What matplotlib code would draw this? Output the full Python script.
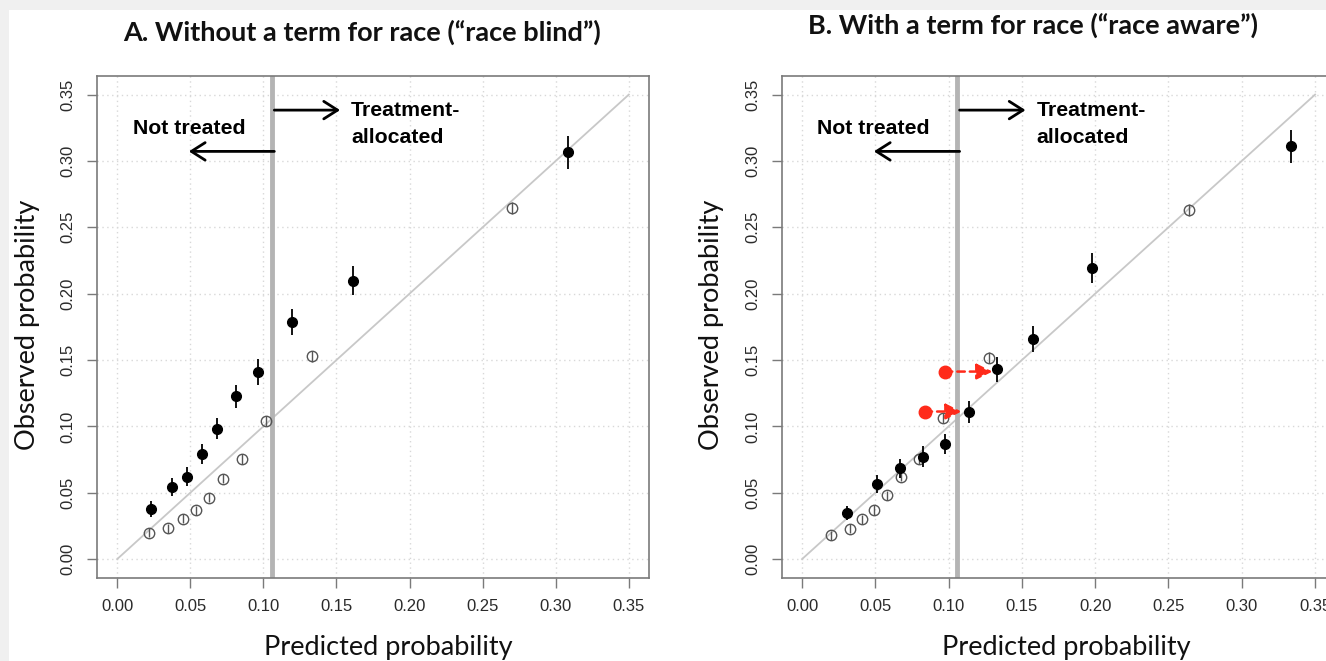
import matplotlib.pyplot as plt
from matplotlib.patches import Rectangle

# ---- data ----
# Panel A: without a term for race
a_black_pred = [0.0232, 0.0378, 0.0478, 0.0581, 0.0686, 0.0810, 0.0962, 0.1193, 0.1613, 0.3085]
a_black_obs = [0.0376, 0.0544, 0.0622, 0.0791, 0.0983, 0.1226, 0.1410, 0.1784, 0.2097, 0.3064]
a_black_err = [0.0061, 0.0066, 0.0069, 0.0078, 0.0078, 0.0088, 0.0095, 0.0099, 0.0110, 0.0126]
a_white_pred = [0.0217, 0.0351, 0.0449, 0.0537, 0.0627, 0.0727, 0.0852, 0.1018, 0.1333, 0.2699]
a_white_obs = [0.0200, 0.0233, 0.0303, 0.0368, 0.0464, 0.0607, 0.0754, 0.1042, 0.1527, 0.2647]
a_white_err = [0.0032, 0.0033, 0.0034, 0.0035, 0.0035, 0.0036, 0.0037, 0.0038, 0.0040, 0.0045]

# Panel B: with a term for race
b_black_pred = [0.0305, 0.0509, 0.0669, 0.0822, 0.0972, 0.1137, 0.1331, 0.1578, 0.1980, 0.3338]
b_black_obs = [0.0345, 0.0565, 0.0684, 0.0773, 0.0869, 0.1110, 0.1429, 0.1659, 0.2193, 0.3111]
b_black_err = [0.0054, 0.0069, 0.0070, 0.0076, 0.0076, 0.0082, 0.0091, 0.0101, 0.0110, 0.0124]
b_white_pred = [0.0201, 0.0325, 0.0410, 0.0494, 0.0579, 0.0676, 0.0797, 0.0965, 0.1277, 0.2640]
b_white_obs = [0.0179, 0.0228, 0.0301, 0.0371, 0.0480, 0.0622, 0.0757, 0.1060, 0.1519, 0.2631]
b_white_err = [0.0032, 0.0033, 0.0034, 0.0035, 0.0035, 0.0036, 0.0037, 0.0038, 0.0040, 0.0045]

# red points (race blind prediction) moved right in panel B
red_from = [0.0974, 0.0836]
red_to = [0.1299, 0.1088]
red_obs = [0.1413, 0.1112]

threshold = 0.106
ticks = [0.00, 0.05, 0.10, 0.15, 0.20, 0.25, 0.30, 0.35]
tick_labels = ['0.00', '0.05', '0.10', '0.15', '0.20', '0.25', '0.30', '0.35']

W, H = 1326, 661
fig = plt.figure(figsize=(W / 100, H / 100), dpi=100, facecolor='#f0f0f0')
fig.patches.append(Rectangle((9 / W, 0), 1, 1 - 10 / H, transform=fig.transFigure,
                             facecolor='white', edgecolor='none', zorder=-10))


def panel(ax, bx, by, be, wx, wy, we):
    ax.set_xlim(-0.014, 0.364)
    ax.set_ylim(-0.014, 0.364)
    ax.set_xticks(ticks)
    ax.set_xticklabels(tick_labels)
    ax.set_yticks(ticks)
    ax.set_yticklabels(tick_labels, rotation=90, va='center')
    for s in ax.spines.values():
        s.set_color('#7a7a7a')
        s.set_linewidth(1.2)
    ax.tick_params(length=7.2, width=1, color='#7a7a7a', labelsize=12,
                   labelcolor='#2a2a2a', labelfontfamily='Liberation Sans')
    ax.tick_params(axis='x', pad=8)
    ax.tick_params(axis='y', pad=8)
    ax.grid(True, color='#d8d8d8', linestyle=(0, (1, 2.5)), lw=1)
    ax.set_axisbelow(True)

    ax.plot([0, 0.35], [0, 0.35], color='#c8c8c8', lw=1.3, zorder=1)
    ax.axvline(threshold, color='#b4b4b4', lw=3.5, zorder=2)

    ax.errorbar(wx, wy, yerr=we, fmt='o', ms=7.5, mfc='none', mec='#555555',
                mew=1, ecolor='#555555', elinewidth=1, capsize=0, zorder=3)
    ax.errorbar(bx, by, yerr=be, fmt='o', ms=7, mfc='black', mec='black',
                ecolor='black', elinewidth=1.3, capsize=0, zorder=4)

    # annotations
    tf = dict(family='Liberation Sans', weight='bold', fontsize=15.3, color='black')
    ax.text(0.0105, 0.3241, 'Not treated', ha='left', va='center', **tf)
    ax.text(0.1600, 0.3380, 'Treatment-', ha='left', va='center', **tf)
    ax.text(0.1600, 0.3176, 'allocated', ha='left', va='center', **tf)
    ap = dict(arrowstyle='->,head_length=0.55,head_width=0.35', color='black', lw=2,
              shrinkA=0, shrinkB=0, mutation_scale=18)
    ax.annotate('', xy=(0.049, 0.3072), xytext=(threshold + 0.0015, 0.3072), arrowprops=ap)
    ax.annotate('', xy=(0.1525, 0.3383), xytext=(threshold + 0.0015, 0.3383), arrowprops=ap)


ax_a = fig.add_axes([96.7 / W, 1 - 577.7 / H, 552.6 / W, 501.7 / H])
ax_b = fig.add_axes([781.5 / W, 1 - 577.7 / H, 554.1 / W, 501.7 / H])
panel(ax_a, a_black_pred, a_black_obs, a_black_err, a_white_pred, a_white_obs, a_white_err)
panel(ax_b, b_black_pred, b_black_obs, b_black_err, b_white_pred, b_white_obs, b_white_err)

for x0, x1, y in zip(red_from, red_to, red_obs):
    ax_b.annotate('', xy=(x1, y), xytext=(x0, y),
                  arrowprops=dict(arrowstyle='-|>,head_length=0.6,head_width=0.3',
                                  color='#ff2a1a', lw=1.8, linestyle=(0, (3, 2)),
                                  shrinkA=0, shrinkB=0, mutation_scale=16), zorder=5)
    ax_b.plot([x0], [y], 'o', color='#ff2a1a', ms=9, zorder=6)

# titles and axis labels (overlaid text)
title_kw = dict(family='Lato', weight='bold', fontsize=19.5, color='#111111', ha='center', va='center')
fig.text(362 / W, 1 - 32 / H, 'A. Without a term for race (\u201crace blind\u201d)', **title_kw)
fig.text(1033 / W, 1 - 25 / H, 'B. With a term for race (\u201crace aware\u201d)', **title_kw)

lab_kw = dict(family='Lato', fontsize=19.5, color='#111111', ha='center', va='center')
fig.text(388 / W, 1 - 647 / H, 'Predicted probability', **lab_kw)
fig.text(1066 / W, 1 - 647 / H, 'Predicted probability', **lab_kw)
fig.text(28 / W, 1 - 325 / H, 'Observed probability', rotation=90, **lab_kw)
fig.text(712 / W, 1 - 325 / H, 'Observed probability', rotation=90, **lab_kw)

fig.savefig('out.png', dpi=100, facecolor=fig.get_facecolor())
